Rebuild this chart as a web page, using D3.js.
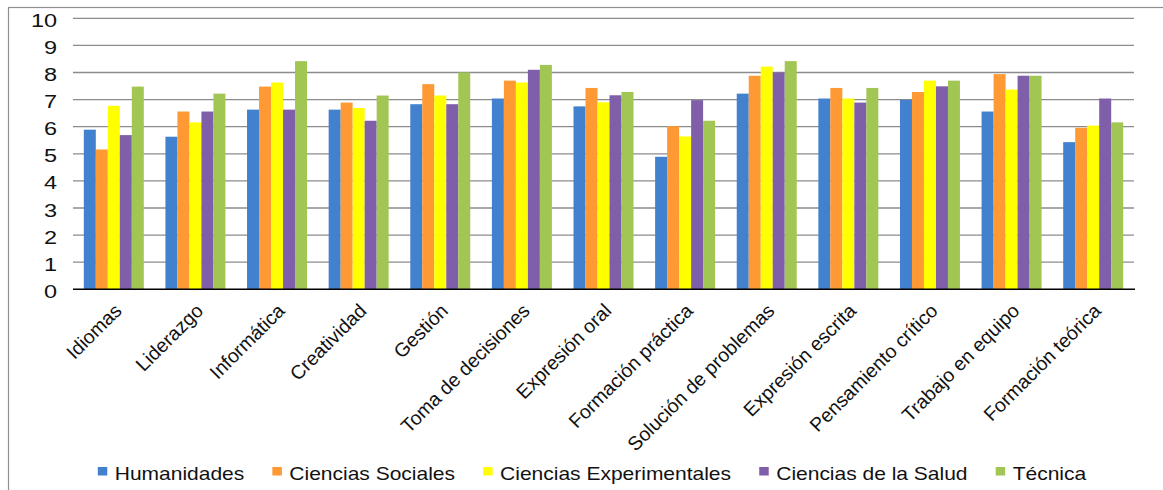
<!DOCTYPE html>
<html>
<head>
<meta charset="utf-8">
<script src="https://cdn.jsdelivr.net/npm/d3@7"></script>
<style>
  html, body { margin: 0; padding: 0; background: #fff; }
  svg { display: block; }
  text { font-family: "Liberation Sans", Arial, sans-serif; fill: #111; }
</style>
</head>
<body>
<svg id="chart" width="1163" height="490"></svg>
<script>
const categories = ["Idiomas", "Liderazgo", "Informática", "Creatividad", "Gestión",
  "Toma de decisiones", "Expresión oral", "Formación práctica", "Solución de problemas",
  "Expresión escrita", "Pensamiento crítico", "Trabajo en equipo", "Formación teórica"];
const seriesNames = ["Humanidades", "Ciencias Sociales", "Ciencias Experimentales", "Ciencias de la Salud", "Técnica"];
const humanidades            = [5.89, 5.63, 6.63, 6.63, 6.83, 7.04, 6.75, 4.89, 7.22, 7.04, 6.99, 6.56, 5.43];
const cienciasSociales       = [5.16, 6.56, 7.48, 6.89, 7.57, 7.70, 7.43, 6.02, 7.88, 7.43, 7.28, 7.94, 5.96];
const cienciasExperimentales = [6.77, 6.16, 7.63, 6.69, 7.15, 7.63, 6.90, 5.64, 8.22, 7.04, 7.70, 7.37, 6.04];
const cienciasSalud          = [5.69, 6.56, 6.63, 6.22, 6.83, 8.10, 7.16, 6.98, 8.00, 6.89, 7.49, 7.88, 7.04];
const tecnica                = [7.48, 7.22, 8.42, 7.15, 8.00, 8.28, 7.28, 6.22, 8.42, 7.43, 7.70, 7.88, 6.16];
const seriesColors = ["#4281CD", "#FF9933", "#FFFF00", "#7F5FA9", "#A2C653"];
const yTicks = [0, 1, 2, 3, 4, 5, 6, 7, 8, 9, 10];

const seriesValues = [humanidades, cienciasSociales, cienciasExperimentales, cienciasSalud, tecnica];
const svg = d3.select("#chart");

// outer frame
svg.append("rect").attr("x", 8.5).attr("y", 7.5).attr("width", 1200).attr("height", 600)
  .attr("fill", "none").attr("stroke", "#8f8f8f").attr("stroke-width", 1.2);

const plotLeft = 73, plotRight = 1134, yZero = 289.3, yTop = 18.3;
const x0 = d3.scaleBand().domain(categories).range([plotLeft, plotRight])
  .paddingInner(0.265).paddingOuter(0.1325);
const x1 = d3.scaleBand().domain(seriesNames).range([0, x0.bandwidth()]).padding(0);
const y = d3.scaleLinear().domain([0, 10]).range([yZero, yTop]);

// gridlines
svg.append("g").selectAll("line").data(yTicks.filter(d => d > 0)).join("line")
  .attr("x1", plotLeft).attr("x2", plotRight)
  .attr("y1", d => y(d)).attr("y2", d => y(d))
  .attr("stroke", "#8c8c8c").attr("stroke-width", 1.3);

// y tick labels
const sx = 1.27;
svg.append("g").selectAll("text").data(yTicks).join("text")
  .attr("transform", d => `translate(57,${y(d) + 8.5}) scale(${sx},1)`)
  .attr("text-anchor", "end")
  .style("font-size", "18.5px")
  .text(d => d);

// bars
const groups = svg.append("g").selectAll("g").data(categories).join("g")
  .attr("transform", d => `translate(${x0(d)},0)`);
groups.selectAll("rect")
  .data((c, i) => seriesNames.map((s, k) => ({ s, k, v: seriesValues[k][i] })))
  .join("rect")
  .attr("x", d => x1(d.s))
  .attr("width", x1.bandwidth())
  .attr("y", d => y(d.v))
  .attr("height", d => yZero - y(d.v))
  .attr("fill", d => seriesColors[d.k]);

// zero axis
svg.append("line").attr("x1", plotLeft).attr("x2", plotRight + 1)
  .attr("y1", yZero).attr("y2", yZero)
  .attr("stroke", "#000").attr("stroke-width", 1.6);

// x labels
svg.append("g").selectAll("text").data(categories).join("text")
  .attr("transform", d => `translate(${x0(d) + x0.bandwidth() / 2 + 9},312) rotate(-45)`)
  .attr("text-anchor", "end")
  .style("font-size", "19.5px")
  .text(d => d);

// legend
const lsx = 1.2;
const legend = svg.append("g");
const items = legend.selectAll("g").data(seriesNames).join("g");
items.append("rect").attr("width", 9.5).attr("height", 8.5).attr("y", 467)
  .attr("fill", (d, i) => seriesColors[i]);
items.append("text").attr("class", "lt")
  .style("font-size", "17.5px")
  .text(d => d);
let widths = [];
items.select("text").each(function () { widths.push(this.getComputedTextLength() * lsx); });
const sq = 9.5, gapTxt = 7.5, gapItem = 28;
const total = d3.sum(widths) + seriesNames.length * (sq + gapTxt) + (seriesNames.length - 1) * gapItem;
let cursor = 592 - total / 2;
items.each(function (d, i) {
  const g = d3.select(this);
  g.select("rect").attr("x", cursor);
  g.select("text").attr("transform", `translate(${cursor + sq + gapTxt},479.5) scale(${lsx},1)`);
  cursor += sq + gapTxt + widths[i] + gapItem;
});
</script>
</body>
</html>
